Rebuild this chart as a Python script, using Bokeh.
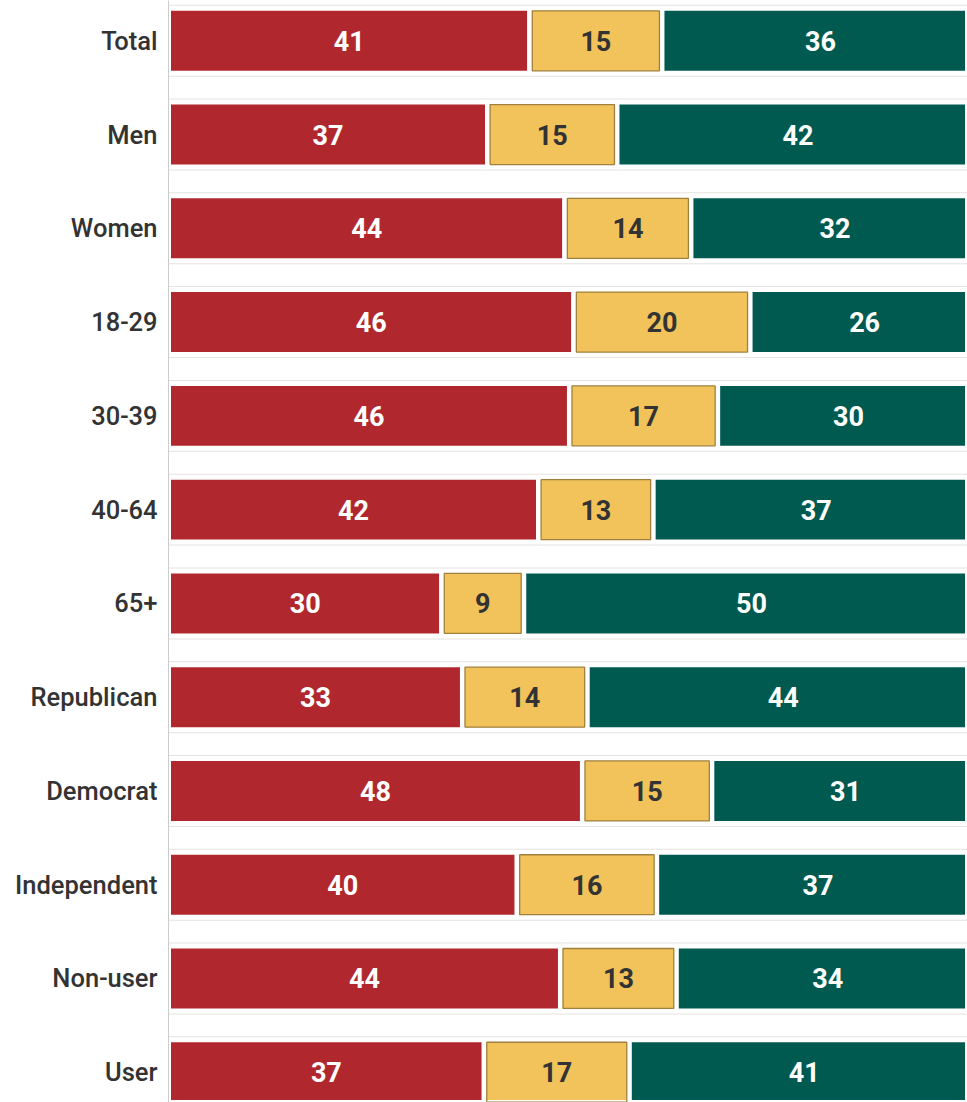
from bokeh.plotting import figure
from bokeh.models import Range1d, FixedTicker, ColumnDataSource
from bokeh.core.properties import value
from bokeh.embed import file_html
from bokeh.resources import INLINE

categories = ["Total", "Men", "Women", "18-29", "30-39", "40-64", "65+",
              "Republican", "Democrat", "Independent", "Non-user", "User"]
red_vals = [41, 37, 44, 46, 46, 42, 30, 33, 48, 40, 44, 37]
yellow_vals = [15, 15, 14, 20, 17, 13, 9, 14, 15, 16, 13, 17]
green_vals = [36, 42, 32, 26, 30, 37, 50, 44, 31, 37, 34, 41]

RED = "#B0282E"
YELLOW = "#F2C35B"
GREEN = "#005A50"
YELLOW_EDGE = "#A0803C"

X_END = 98.56     # visible part of the 100 % bar (the picture is cropped)
BAR_H = 0.693
INSET_X = 0.31    # 2.5 px in percent units
INSET_Y = 0.027   # 2.5 px in row units

ys = list(range(len(categories)))
sums = [r + y + g for r, y, g in zip(red_vals, yellow_vals, green_vals)]
r_end = [100 * r / s for r, s in zip(red_vals, sums)]
y_end = [100 * (r + y) / s for r, y, s in zip(red_vals, yellow_vals, sums)]
g_end = [100.0] * len(ys)

src = ColumnDataSource(dict(
    y=ys, r0=[0] * len(ys), r1=r_end, y1=y_end, g1=g_end,
    yi0=[a + INSET_X for a in r_end], yi1=[b - INSET_X for b in y_end],
    rl=[str(v) for v in red_vals],
    yl=[str(v) for v in yellow_vals],
    gl=[str(v) for v in green_vals],
    rx=[r / 2 for r in r_end],
    yx=[(a + b) / 2 for a, b in zip(r_end, y_end)],
    gx=[(a + b) / 2 for a, b in zip(y_end, g_end)],
))

p = figure(width=967, height=1102, output_backend="svg", toolbar_location=None,
           x_range=Range1d(0, X_END), y_range=Range1d(11.323, -0.43),
           x_axis_location=None, min_border_left=168, min_border_right=0,
           min_border_top=0, min_border_bottom=0, outline_line_color=None,
           background_fill_color="white", border_fill_color="white")
p.grid.visible = False

segs = (("r0", "r1", RED), ("r1", "y1", YELLOW), ("y1", "g1", GREEN))
# faint outer outline
for left, right, col in segs:
    p.hbar(y="y", left=left, right=right, height=BAR_H, source=src,
           fill_color=col, line_color="#E6E3E0", line_width=7)
# white separators
for left, right, col in segs:
    p.hbar(y="y", left=left, right=right, height=BAR_H, source=src,
           fill_color=col, line_color="white", line_width=5)
# yellow brown edge (just inside the white separator)
p.hbar(y="y", left="yi0", right="yi1", height=BAR_H - 2 * INSET_Y, source=src,
       fill_alpha=0, line_color=YELLOW_EDGE, line_width=1.3)

FONT = value("Roboto")
for xcol, tcol, color in (("rx", "rl", "white"), ("yx", "yl", "#333333"),
                          ("gx", "gl", "white")):
    p.text(x=xcol, y="y", text=tcol, source=src, text_color=color,
           text_font=FONT, text_font_style="bold", text_font_size="27px",
           text_align="center", text_baseline="middle")

ax = p.yaxis[0]
ax.ticker = FixedTicker(ticks=ys)
ax.major_label_overrides = {i: c for i, c in enumerate(categories)}
ax.major_tick_line_color = None
ax.minor_tick_line_color = None
ax.major_tick_out = 0
ax.major_tick_in = 0
ax.major_label_standoff = 11
ax.axis_line_color = "#CCCCCC"
ax.axis_line_width = 1
ax.major_label_text_font = "'Roboto Medium', Roboto"
ax.major_label_text_font_size = "25.5px"
ax.major_label_text_color = "#333333"
ax.major_label_text_font_style = "normal"

open("out.html", "w").write(file_html(p, INLINE))
